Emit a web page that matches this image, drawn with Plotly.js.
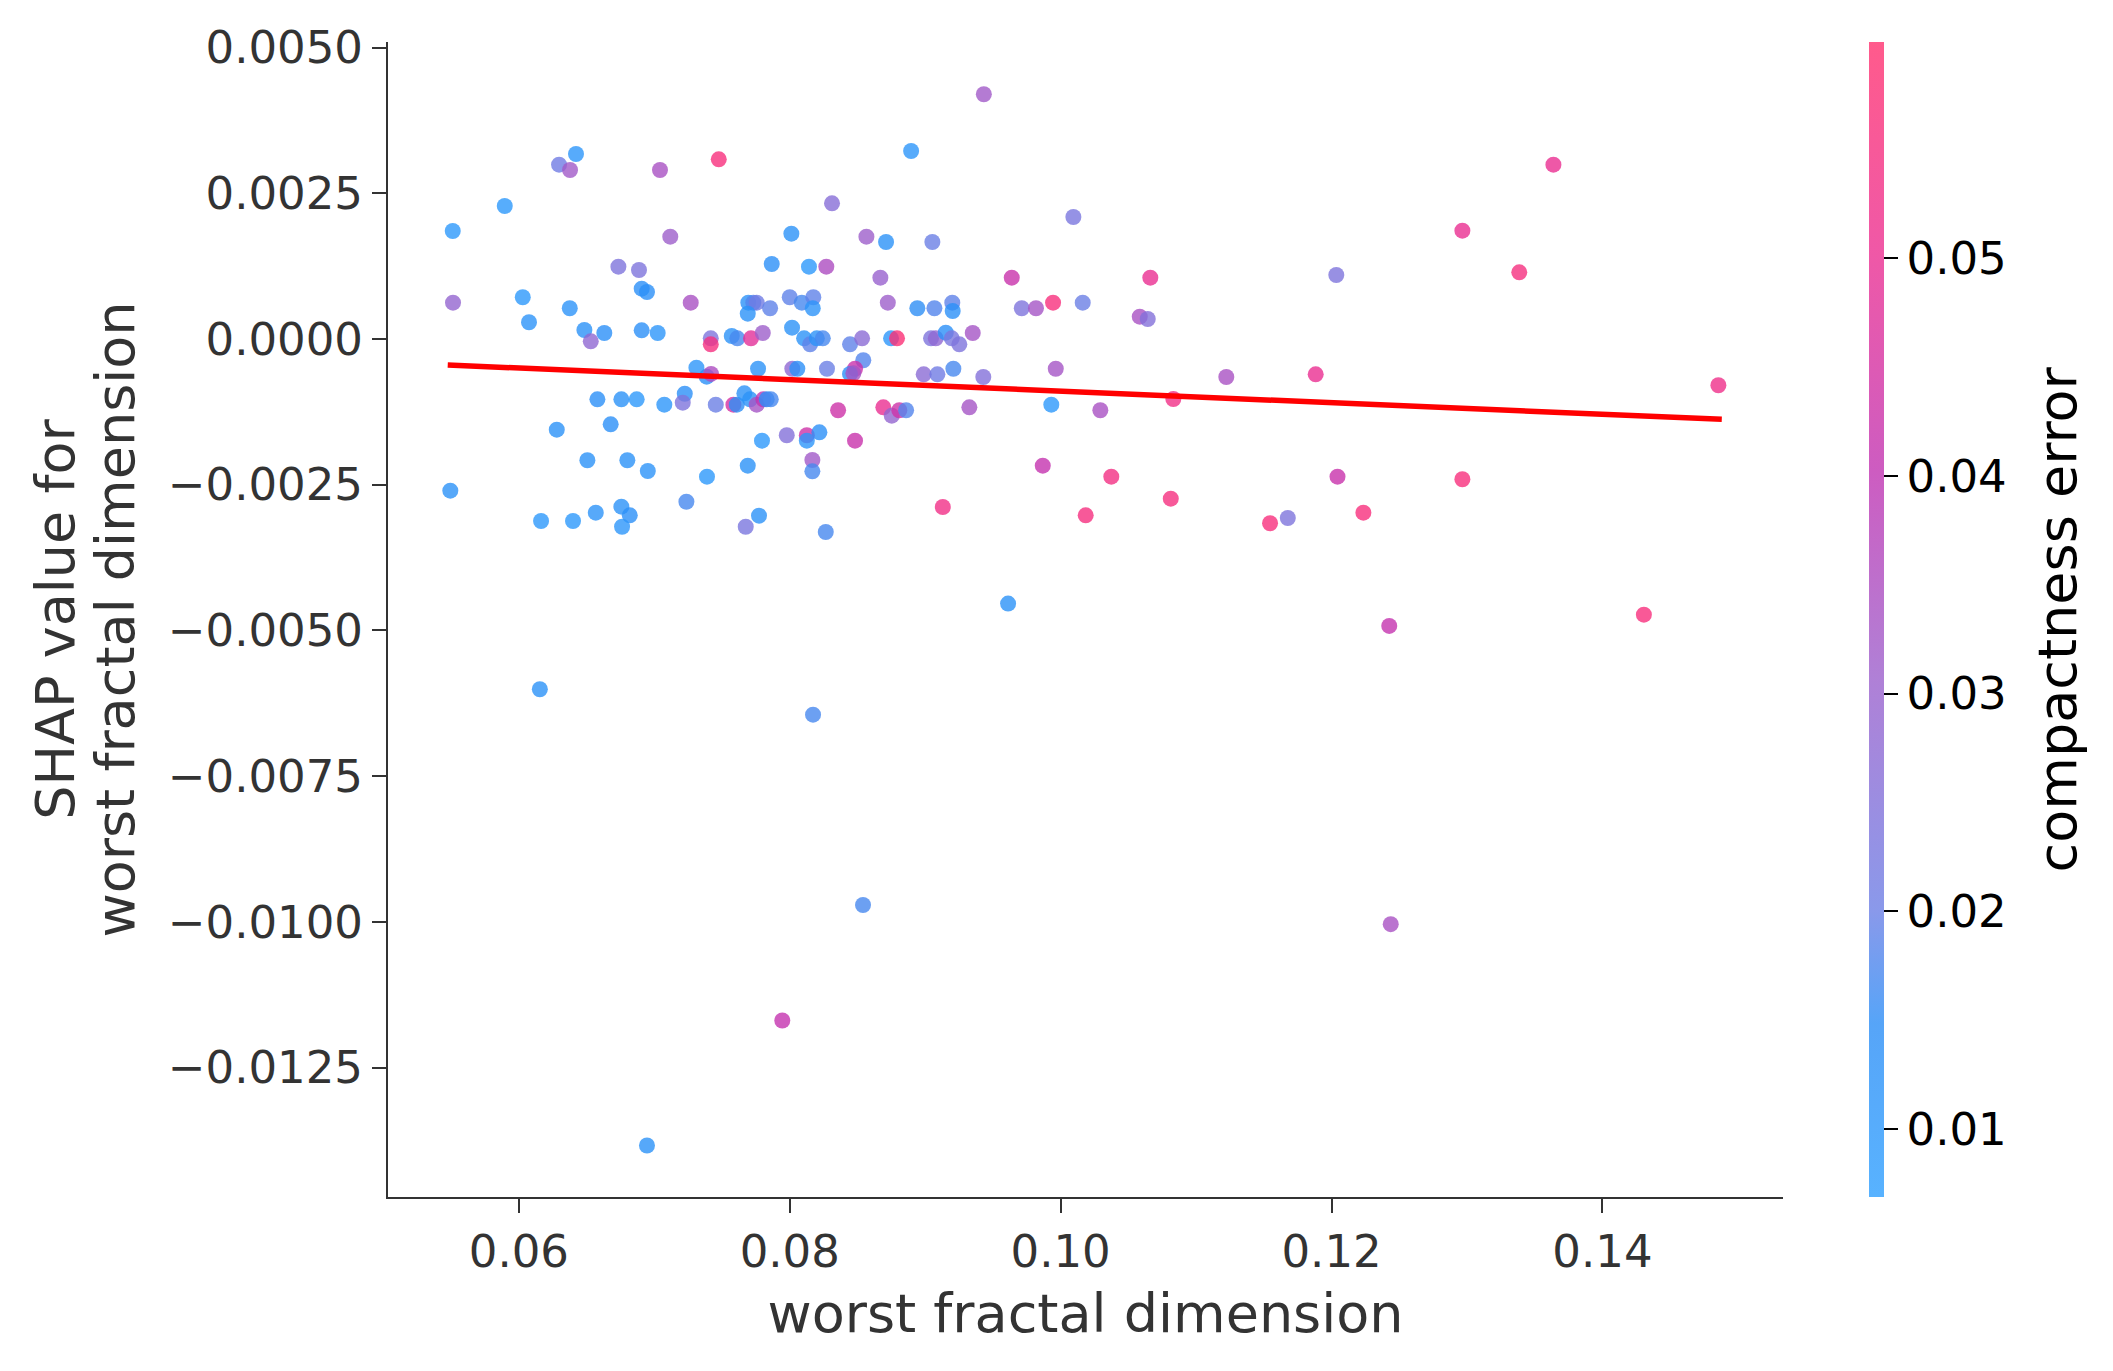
<!DOCTYPE html>
<html>
<head>
<meta charset="utf-8">
<script src="https://cdn.plot.ly/plotly-3.0.1.min.js"></script>
<style>
html,body{margin:0;padding:0;background:#ffffff;}
#chart{width:2113px;height:1371px;}
</style>
</head>
<body>
<div id="chart"></div>
<script>
// worst fractal dimension (feature value)
const featureValues = [
0.06422,0.06297,0.06378,0.07042,0.07476,0.05896,0.05512,0.08312,0.07118,0.08012,
0.08566,0.08711,0.06735,0.06887,0.07867,0.08142,0.08270,0.08669,0.06907,0.06946,
0.05514,0.06029,0.06376,0.06075,0.07269,0.07694,0.07731,0.07756,0.07690,0.07855,
0.08000,0.08089,0.08174,0.08170,0.06484,0.06631,0.06531,0.06907,0.07025,0.07417,
0.07417,0.07572,0.07613,0.07714,0.07801,0.08017,0.08106,0.08150,0.08200,0.08244,
0.08445,0.08534,0.08543,0.08482,0.08445,0.08470,0.07311,0.07387,0.07419,0.07766,
0.08019,0.08056,0.08275,0.06580,0.06757,0.06870,0.07074,0.07225,0.07210,0.07454,
0.07584,0.07609,0.07665,0.07707,0.07756,0.07805,0.07830,0.07860,0.08357,0.08691,
0.06280,0.06678,0.07795,0.07978,0.08126,0.08126,0.08219,0.08482,0.06506,0.06801,
0.06952,0.07389,0.07690,0.08167,0.08167,0.05494,0.06164,0.06400,0.06568,0.06757,
0.06819,0.06762,0.07237,0.07675,0.07773,0.08266,
0.09433,0.08896,0.10094,0.09053,0.09639,0.10662,0.12035,0.08724,0.08942,0.09068,
0.09200,0.09203,0.09713,0.09818,0.09944,0.10163,0.10584,0.10643,0.08748,0.08792,
0.09043,0.09078,0.09152,0.09196,0.09252,0.09351,0.08989,0.09090,0.09208,0.09429,
0.09964,0.11223,0.11883,0.08753,0.08809,0.08859,0.09326,0.09931,0.10293,0.10832,
0.09868,0.10374,0.12044,0.09130,0.10185,0.10813,0.11546,0.11677,
0.13638,0.12966,0.13386,0.14856,0.12966,0.12235,
0.09612,0.06155,0.08172,0.08541,0.07945,0.06946,0.12426,0.14306,0.12437
];
// SHAP value for worst fractal dimension
const shapValues = [
0.003174,0.002991,0.002900,0.002900,0.003083,0.002282,0.001853,0.002328,0.001755,0.001807,
0.001755,0.001664,0.001241,0.001184,0.001287,0.001241,0.001241,0.001052,0.000863,0.000806,
0.000623,0.000716,0.000527,0.000287,0.000623,0.000623,0.000623,0.000623,0.000434,0.000527,
0.000716,0.000623,0.000716,0.000527,0.000154,0.000103,-0.000040,0.000149,0.000103,0.000012,
-0.000091,0.000051,0.000012,0.000012,0.000103,0.000194,0.000012,-0.000091,0.000012,0.000012,
-0.000091,0.000012,-0.000365,-0.000510,-0.000600,-0.000589,-0.000492,-0.000647,-0.000600,-0.000510,
-0.000510,-0.000510,-0.000510,-0.001035,-0.001035,-0.001035,-0.001127,-0.000939,-0.001093,-0.001127,
-0.001127,-0.001127,-0.000932,-0.001035,-0.001127,-0.001035,-0.001035,-0.001035,-0.001223,-0.001172,
-0.001556,-0.001464,-0.001745,-0.001652,-0.001652,-0.001745,-0.001601,-0.001745,-0.002081,-0.002081,
-0.002265,-0.002363,-0.002174,-0.002076,-0.002270,-0.002603,-0.003123,-0.003123,-0.002980,-0.002877,
-0.003025,-0.003221,-0.002792,-0.003221,-0.003032,-0.003312,
0.004199,0.003226,0.002093,0.001664,0.001052,0.001052,0.001098,0.000623,0.000527,0.000527,
0.000623,0.000480,0.000527,0.000527,0.000623,0.000623,0.000383,0.000343,0.000012,0.000012,
0.000012,0.000012,0.000108,0.000012,-0.000091,0.000103,-0.000606,-0.000606,-0.000510,-0.000652,
-0.000510,-0.000652,-0.000606,-0.001316,-0.001223,-0.001223,-0.001172,-0.001127,-0.001223,-0.001030,
-0.002174,-0.002363,-0.002363,-0.002883,-0.003025,-0.002740,-0.003162,-0.003071,
0.002991,0.001858,0.001144,-0.000794,-0.002407,-0.002980,
-0.004540,-0.006010,-0.006446,-0.009712,-0.011694,-0.013838,-0.004923,-0.004730,-0.010040
];
// compactness error (colour)
const compactnessError = [
0.011,0.021,0.032,0.034,0.056,0.010,0.010,0.026,0.031,0.013,
0.031,0.013,0.024,0.024,0.014,0.010,0.035,0.030,0.014,0.014,
0.029,0.010,0.012,0.012,0.034,0.013,0.018,0.021,0.013,0.019,
0.019,0.017,0.019,0.012,0.013,0.014,0.028,0.014,0.011,0.024,
0.055,0.013,0.017,0.048,0.031,0.013,0.013,0.019,0.013,0.017,
0.019,0.027,0.018,0.042,0.014,0.033,0.011,0.014,0.035,0.013,
0.028,0.014,0.020,0.014,0.013,0.010,0.011,0.014,0.024,0.020,
0.045,0.015,0.013,0.013,0.033,0.040,0.014,0.017,0.043,0.050,
0.013,0.014,0.010,0.025,0.043,0.011,0.014,0.042,0.013,0.013,
0.012,0.010,0.013,0.032,0.017,0.013,0.010,0.010,0.012,0.013,
0.014,0.011,0.017,0.023,0.013,0.017,
0.032,0.011,0.023,0.020,0.042,0.050,0.024,0.031,0.015,0.018,
0.019,0.014,0.024,0.033,0.056,0.020,0.034,0.025,0.011,0.058,
0.024,0.028,0.014,0.023,0.024,0.033,0.027,0.021,0.017,0.025,
0.033,0.034,0.050,0.029,0.043,0.018,0.033,0.010,0.034,0.053,
0.041,0.054,0.042,0.053,0.055,0.055,0.056,0.024,
0.050,0.050,0.055,0.052,0.056,0.056,
0.013,0.013,0.017,0.017,0.041,0.013,0.041,0.056,0.034
];
// fitted trend line end points
const trendX = [0.05475, 0.14881];
const trendY = [-0.000446, -0.001378];

const xTickVals = [0.06, 0.08, 0.10, 0.12, 0.14];
const xTickText = ["0.06", "0.08", "0.10", "0.12", "0.14"];
const yTickVals = [0.005, 0.0025, 0, -0.0025, -0.005, -0.0075, -0.01, -0.0125];
const yTickText = ["0.0050", "0.0025", "0.0000", "\u22120.0025", "\u22120.0050", "\u22120.0075", "\u22120.0100", "\u22120.0125"];
const cTickVals = [0.01, 0.02, 0.03, 0.04, 0.05];
const cTickText = ["0.01", "0.02", "0.03", "0.04", "0.05"];
const yTitleLines = ["SHAP value for", "worst fractal dimension"];
const xTitle = "worst fractal dimension";
const colorTitle = "compactness error";
const colorMin = 0.00688;
const colorMax = 0.05992;

const redBlue = [
  [0.00, 'rgba(46,159,255,0.8)'],
  [0.15, 'rgba(44,142,246,0.8)'],
  [0.25, 'rgba(109,127,229,0.8)'],
  [0.45, 'rgba(156,96,204,0.8)'],
  [0.63, 'rgba(193,51,177,0.8)'],
  [0.82, 'rgba(236,46,144,0.8)'],
  [1.00, 'rgba(255,49,111,0.8)']
];

const FONT = 'DejaVu Sans, Verdana, sans-serif';

const dots = {
  type: 'scatter',
  mode: 'markers',
  x: featureValues,
  y: shapValues,
  hoverinfo: 'skip',
  showlegend: false,
  marker: {
    size: 16,
    color: compactnessError,
    colorscale: redBlue,
    cmin: colorMin,
    cmax: colorMax,
    line: {width: 0},
    colorbar: {
      thickness: 15,
      thicknessmode: 'pixels',
      len: 1,
      lenmode: 'fraction',
      x: 1.0616,
      xanchor: 'left',
      xpad: 0,
      y: 0.5,
      yanchor: 'middle',
      ypad: 0,
      outlinewidth: 0,
      ticks: 'outside',
      ticklen: 14,
      tickwidth: 2,
      tickcolor: '#000000',
      tickvals: cTickVals,
      ticktext: cTickText,
      tickfont: {family: FONT, size: 45, color: '#000000'}
    }
  }
};

const trend = {
  type: 'scatter',
  mode: 'lines',
  x: trendX,
  y: trendY,
  hoverinfo: 'skip',
  showlegend: false,
  line: {color: '#ff0000', width: 5.5}
};

const layout = {
  width: 2113,
  height: 1371,
  paper_bgcolor: '#ffffff',
  plot_bgcolor: '#ffffff',
  margin: {l: 388, r: 330, t: 42, b: 174, pad: 0},
  font: {family: FONT, color: '#333333'},
  xaxis: {
    range: [0.05034, 0.15333],
    tickvals: xTickVals,
    ticktext: xTickText,
    showgrid: false,
    zeroline: false,
    showline: true,
    linecolor: '#333333',
    linewidth: 2,
    ticks: 'outside',
    ticklen: 14,
    tickwidth: 2,
    tickcolor: '#333333',
    tickfont: {family: FONT, size: 45, color: '#333333'},
    title: {text: xTitle, font: {family: FONT, size: 54, color: '#333333'}, standoff: 17}
  },
  yaxis: {
    range: [-0.014722, 0.005096],
    tickvals: yTickVals,
    ticktext: yTickText,
    showgrid: false,
    zeroline: false,
    showline: true,
    linecolor: '#333333',
    linewidth: 2,
    ticks: 'outside',
    ticklen: 14,
    tickwidth: 2,
    tickcolor: '#333333',
    tickfont: {family: FONT, size: 45, color: '#333333'}
  },
  annotations: [
    {
      text: yTitleLines[0],
      xref: 'paper', yref: 'paper',
      x: -0.2385, y: 0.5,
      xanchor: 'center', yanchor: 'middle',
      textangle: -90, showarrow: false,
      font: {family: FONT, size: 54, color: '#333333'}
    },
    {
      text: yTitleLines[1],
      xref: 'paper', yref: 'paper',
      x: -0.1950, y: 0.5,
      xanchor: 'center', yanchor: 'middle',
      textangle: -90, showarrow: false,
      font: {family: FONT, size: 54, color: '#333333'}
    },
    {
      text: colorTitle,
      xref: 'paper', yref: 'paper',
      x: 1.1971, y: 0.5,
      xanchor: 'center', yanchor: 'middle',
      textangle: -90, showarrow: false,
      font: {family: FONT, size: 54, color: '#000000'}
    }
  ]
};

Plotly.newPlot('chart', [dots, trend], layout, {staticPlot: true, displayModeBar: false});
</script>
</body>
</html>
